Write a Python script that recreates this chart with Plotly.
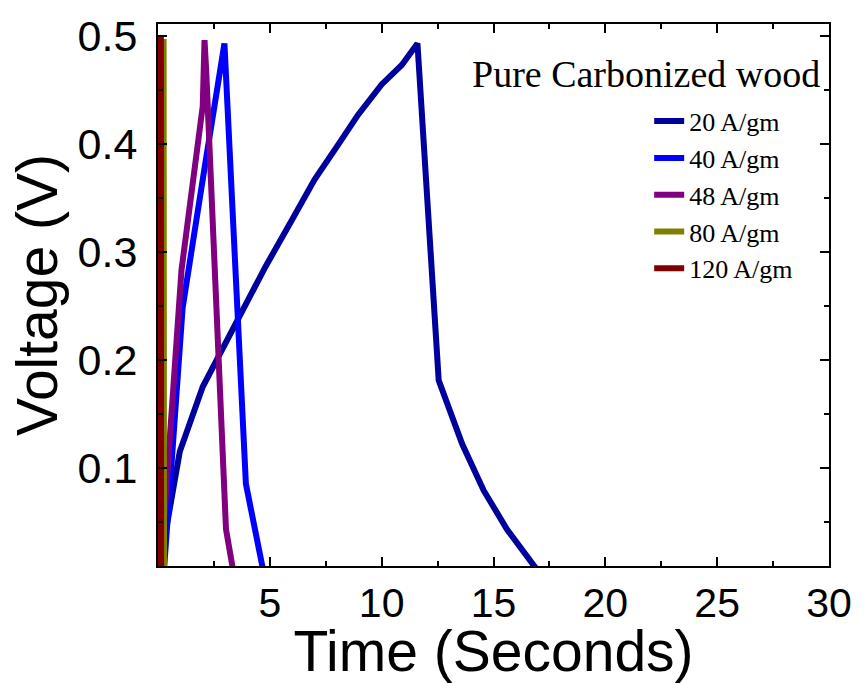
import plotly.graph_objects as go

# ---- data ----
t_20 = [0.0, 0.975, 2.0, 2.9, 3.8, 4.8, 6.0, 7.0, 8.05, 8.95, 10.0, 10.9, 11.6, 12.55, 13.6, 14.56, 15.6, 17.0]
v_20 = [0.0, 0.115, 0.175, 0.211, 0.246, 0.286, 0.330, 0.367, 0.399, 0.427, 0.455, 0.473, 0.493, 0.181, 0.122, 0.079, 0.043, 0.004]

t_40 = [0.25, 1.1, 2.0, 2.97, 3.93, 4.75]
v_40 = [0.0, 0.248, 0.367, 0.493, 0.085, 0.0]

t_48 = [0.1, 1.05, 2.0, 2.08, 2.15, 3.04, 3.4]
v_48 = [0.0, 0.283, 0.435, 0.496, 0.47, 0.043, 0.0]

t_80 = [0.23, 0.25, 0.27]
v_80 = [0.0, 0.497, 0.0]

t_120 = [0.12, 0.13, 0.14]
v_120 = [0.0, 0.500, 0.0]

labels = ["20 A/gm", "40 A/gm", "48 A/gm", "80 A/gm", "120 A/gm"]
colors = ["#00009C", "#0000FF", "#800080", "#808000", "#800000"]

x_ticks = [5, 10, 15, 20, 25, 30]
y_ticks = [0.1, 0.2, 0.3, 0.4, 0.5]
y_ticklabels = ["0.1", "0.2", "0.3", "0.4", "0.5"]

legend_title = "Pure Carbonized wood"

series = [(t_20, v_20), (t_40, v_40), (t_48, v_48), (t_80, v_80), (t_120, v_120)]

fig = go.Figure()
for (tx, vy), name, col in zip(series, labels, colors):
    fig.add_trace(go.Scatter(x=tx, y=vy, mode="lines", name=name,
                             line=dict(color=col, width=6)))

axis_common = dict(
    showline=True, linecolor="black", linewidth=2, mirror="ticks",
    ticks="inside", ticklen=9, tickwidth=1.5, tickcolor="black",
    showgrid=False, zeroline=False,
)

tick_font = dict(family="Liberation Sans, Arial", size=43, color="black")

fig.update_xaxes(range=[0, 30], tickvals=x_ticks, tickfont=dict(family="Liberation Sans, Arial", size=41, color="black"),
                 title=dict(text="Time (Seconds)", font=dict(family="Liberation Sans, Arial", size=57, color="black"), standoff=5),
                 minor=dict(dtick=2.5, ticklen=5, tickwidth=1.5, tickcolor="black", ticks="inside"),
                 **axis_common)
fig.update_yaxes(range=[0.009, 0.511], tickvals=y_ticks, ticktext=y_ticklabels, tickfont=tick_font,
                 ticklabelstandoff=10,
                 title=dict(text="Voltage (V)", font=dict(family="Liberation Sans, Arial", size=57, color="black"), standoff=2),
                 minor=dict(dtick=0.05, tick0=0, ticklen=5, tickwidth=1.5, tickcolor="black", ticks="inside"),
                 **axis_common)

fig.add_annotation(text=legend_title, xref="paper", yref="paper", x=0.99, y=0.908,
                   xanchor="right", yanchor="middle", showarrow=False,
                   font=dict(family="Liberation Serif, Times New Roman", size=38, color="black"))

fig.update_layout(
    width=864, height=683,
    margin=dict(l=158, r=29, t=24, b=117),
    plot_bgcolor="white", paper_bgcolor="white",
    legend=dict(x=0.732, y=0.864, xanchor="left", yanchor="top",
                bgcolor="rgba(0,0,0,0)", tracegroupgap=0,
                font=dict(family="Liberation Serif, Times New Roman", size=26, color="black")),
)

fig.write_html("out.html")
